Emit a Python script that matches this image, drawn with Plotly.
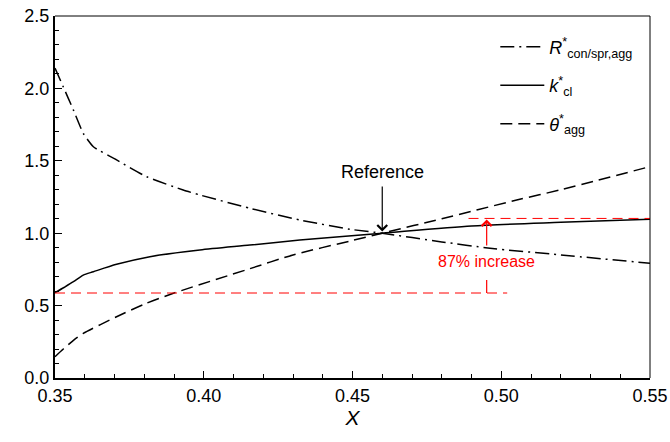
import plotly.graph_objects as go

# ---- data ----
x_R = [0.35, 0.3528, 0.3562, 0.3595, 0.3629, 0.3707, 0.3808, 0.3931, 0.3987, 0.4155, 0.4323, 0.4492, 0.46, 0.48, 0.4962, 0.52, 0.55]
R_con = [2.14, 2.01, 1.85, 1.69, 1.597, 1.506, 1.39, 1.298, 1.264, 1.172, 1.091, 1.027, 1.0, 0.94, 0.896, 0.85, 0.792]

x_k = [0.35, 0.353, 0.3562, 0.3595, 0.3629, 0.3707, 0.3819, 0.3987, 0.4155, 0.4323, 0.46, 0.49, 0.52, 0.55]
k_cl = [0.589, 0.625, 0.665, 0.711, 0.734, 0.785, 0.838, 0.884, 0.918, 0.953, 1.0, 1.05, 1.075, 1.097]

x_t = [0.35, 0.3528, 0.3562, 0.3595, 0.3707, 0.38, 0.3898, 0.4155, 0.43, 0.45, 0.46, 0.48, 0.5052, 0.52, 0.55]
theta_agg = [0.147, 0.2, 0.26, 0.308, 0.423, 0.51, 0.585, 0.755, 0.85, 0.95, 1.0, 1.10, 1.229, 1.30, 1.46]

ref_x = 0.46
low_level = 0.587
high_level = 1.102
increase_text = "87% increase"

RED = "#ff0000"
FONT = "Liberation Sans, Arial, sans-serif"

fig = go.Figure()
fig.add_trace(go.Scatter(x=x_R, y=R_con, mode="lines", legendgroup="a",
                         line=dict(color="black", width=1.5, dash="14px,5px,2px,5px",
                                   shape="spline", smoothing=0.5),
                         name="<i>R</i><sup>*</sup><sub>con/spr,agg</sub>"))
fig.add_trace(go.Scatter(x=x_k, y=k_cl, mode="lines", legendgroup="b",
                         line=dict(color="black", width=1.5, shape="spline", smoothing=0.7),
                         name="<i>k</i><sup>*</sup><sub>cl</sub>"))
fig.add_trace(go.Scatter(x=x_t, y=theta_agg, mode="lines", legendgroup="c",
                         line=dict(color="black", width=1.5, dash="12px,6px",
                                   shape="spline", smoothing=0.7),
                         name="<i>θ</i><sup>*</sup><sub>agg</sub>"))

# red reference lines
fig.add_trace(go.Scatter(x=[0.35, 0.502], y=[low_level, low_level], mode="lines",
                         line=dict(color=RED, width=1, dash="10px,6px"), showlegend=False))
fig.add_trace(go.Scatter(x=[0.489, 0.55], y=[high_level, high_level], mode="lines",
                         line=dict(color=RED, width=1, dash="10px,6px"), showlegend=False))
fig.add_trace(go.Scatter(x=[0.4951, 0.4951], y=[low_level, 0.677], mode="lines",
                         line=dict(color=RED, width=1.2), showlegend=False))

fig.add_annotation(x=0.4951, y=high_level - 0.008, ax=0.4951, ay=0.905,
                   xref="x", yref="y", axref="x", ayref="y",
                   showarrow=True, arrowhead=4, arrowsize=1.6, arrowwidth=1.2,
                   arrowcolor=RED, text="")
fig.add_annotation(x=0.4951, y=0.805, text=increase_text, showarrow=False,
                   font=dict(family=FONT, size=16, color=RED))

fig.add_annotation(x=ref_x, y=1.012, ax=ref_x, ay=1.333,
                   xref="x", yref="y", axref="x", ayref="y",
                   showarrow=True, arrowhead=4, arrowsize=1.6, arrowwidth=1.2,
                   arrowcolor="black", text="")
fig.add_annotation(x=ref_x, y=1.425, text="Reference", showarrow=False,
                   font=dict(family=FONT, size=18, color="black"))

# thin top/right frame
fig.add_shape(type="line", xref="paper", yref="paper", x0=0, x1=1, y0=1, y1=1,
              line=dict(color="black", width=1))
fig.add_shape(type="line", xref="paper", yref="paper", x0=1, x1=1, y0=0, y1=1,
              line=dict(color="black", width=1))

fig.update_layout(
    width=670, height=442,
    margin=dict(l=55, r=20, t=16, b=64),
    paper_bgcolor="white", plot_bgcolor="white",
    font=dict(family=FONT, size=18, color="black"),
    legend=dict(x=0.74, y=0.965, xanchor="left", yanchor="top",
                bgcolor="rgba(0,0,0,0)", font=dict(size=18),
                itemwidth=44, tracegroupgap=12),
    xaxis=dict(range=[0.35, 0.55], dtick=0.05, tick0=0.35, tickformat=".2f",
               automargin=False, ticklabeloverflow="allow",
               showgrid=False, zeroline=False,
               showline=True, linecolor="black", linewidth=2,
               ticks="inside", ticklen=7, tickwidth=1, tickcolor="black",
               minor=dict(dtick=0.01, ticks="inside", ticklen=4, tickcolor="black"),
               title=dict(text="<i>X</i>", font=dict(size=21), standoff=0)),
    yaxis=dict(range=[0, 2.5], dtick=0.5, tickformat=".1f",
               automargin=False,
               showgrid=False, zeroline=False,
               showline=True, linecolor="black", linewidth=2,
               ticks="inside", ticklen=7, tickwidth=1, tickcolor="black",
               minor=dict(dtick=0.1, ticks="inside", ticklen=4, tickcolor="black")),
)

fig.write_html("out.html")
